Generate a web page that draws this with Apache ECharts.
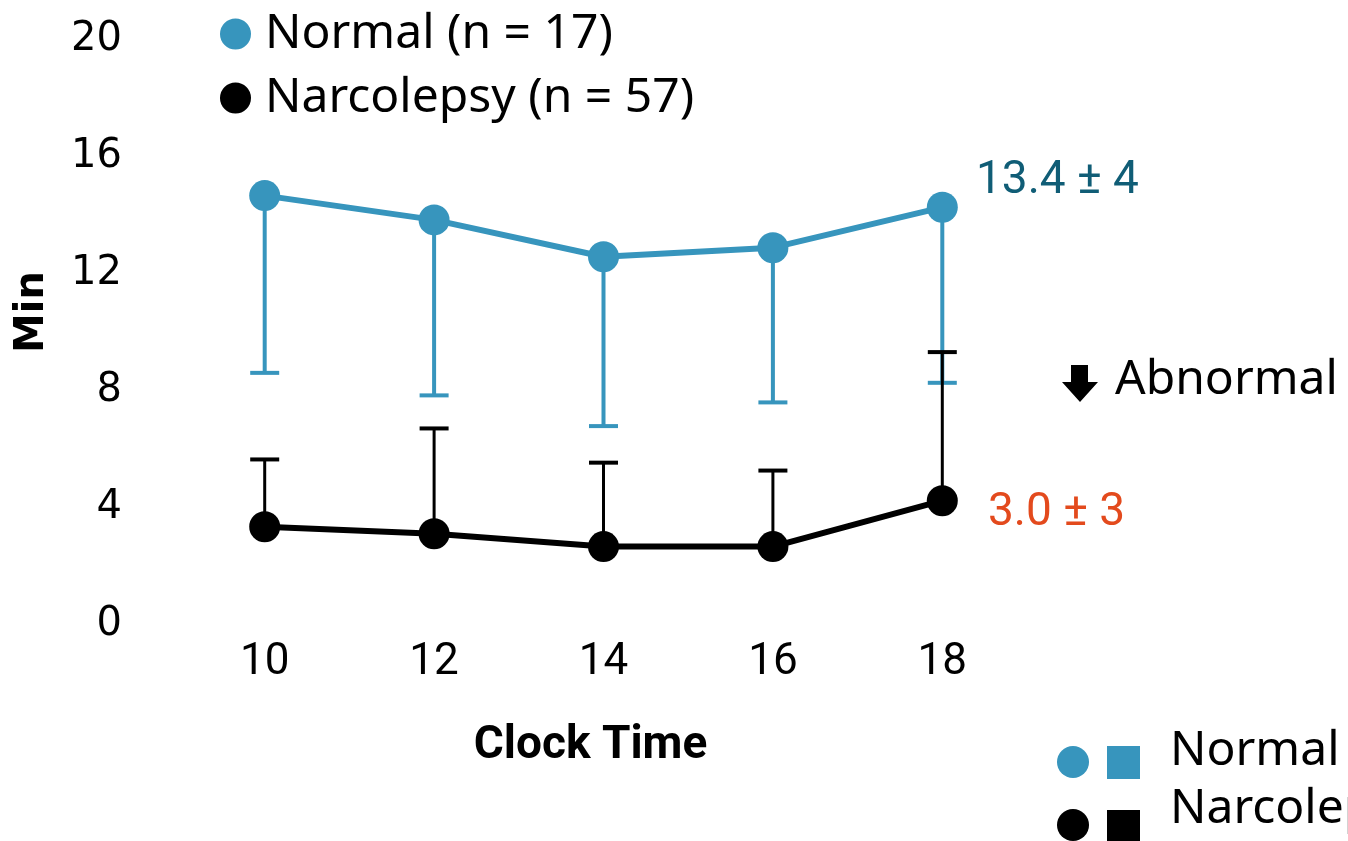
<!DOCTYPE html>
<html>
<head>
<meta charset="utf-8">
<script src="https://cdn.jsdelivr.net/npm/echarts@6/dist/echarts.min.js"></script>
<style>
  html, body { margin: 0; padding: 0; background: #fff; }
  #main { width: 1348px; height: 841px; }
</style>
</head>
<body>
<div id="main"></div>
<script>
// clock time categories
var hours = ['10', '12', '14', '16', '18'];
// mean sleep latency (min)
var normalMean = [14.68, 13.85, 12.59, 12.90, 14.28];
var normalLow = [8.62, 7.85, 6.80, 7.61, 8.28];   // lower end of error bar
var narcoMean = [3.36, 3.12, 2.68, 2.68, 4.25];
var narcoHigh = [5.66, 6.72, 5.55, 5.28, 9.33];   // upper end of error bar
var yTicks = [0, 4, 8, 12, 16, 20];

var BLUE = '#3795bd';
var BLACK = '#000000';

function errData(mean, bound) {
  return mean.map(function (m, i) { return [i, m, bound[i]]; });
}

function errRender(color, width) {
  return function (params, api) {
    var p0 = api.coord([api.value(0), api.value(1)]);
    var p1 = api.coord([api.value(0), api.value(2)]);
    var half = 14.5;
    return {
      type: 'group',
      children: [
        { type: 'line', shape: { x1: p0[0], y1: p0[1], x2: p1[0], y2: p1[1] },
          style: { stroke: color, lineWidth: width } },
        { type: 'line', shape: { x1: p1[0] - half, y1: p1[1], x2: p1[0] + half, y2: p1[1] },
          style: { stroke: color, lineWidth: 4 } }
      ]
    };
  };
}

var myChart = echarts.init(document.getElementById('main'));
myChart.setOption({
  animation: false,
  backgroundColor: '#fff',
  grid: { left: 180, right: 321, top: 40, bottom: 216, containLabel: false, outerBoundsMode: 'none' },
  legend: {
    orient: 'vertical',
    left: 215,
    top: 2,
    icon: 'circle',
    itemWidth: 31,
    itemHeight: 31,
    itemGap: 10,
    data: ['Normal (n = 17)', 'Narcolepsy (n = 57)'],
    textStyle: { fontFamily: 'Noto Sans', fontSize: 48, color: '#000', lineHeight: 54, padding: [0, 0, 0, 9] }
  },
  xAxis: {
    type: 'category',
    data: hours,
    boundaryGap: true,
    axisLine: { show: false },
    axisTick: { show: false },
    axisLabel: { fontFamily: 'Roboto', fontSize: 44, color: '#000', margin: 16 },
    name: 'Clock Time',
    nameLocation: 'middle',
    nameGap: 98,
    nameTextStyle: { fontFamily: 'Roboto', fontWeight: 'bold', fontSize: 46, color: '#000', padding: [0, 26, 0, 0] }
  },
  yAxis: {
    type: 'value',
    min: yTicks[0],
    max: yTicks[yTicks.length - 1],
    interval: 4,
    splitLine: { show: false },
    axisLine: { show: false },
    axisTick: { show: false },
    axisLabel: { fontFamily: 'DejaVu Sans', fontSize: 40, color: '#000', margin: 58 }
  },
  series: [
    {
      type: 'custom',
      renderItem: errRender(BLUE, 4),
      data: errData(normalMean, normalLow),
      z: 1
    },
    {
      type: 'custom',
      renderItem: errRender(BLACK, 3),
      data: errData(narcoMean, narcoHigh),
      z: 2
    },
    {
      name: 'Normal (n = 17)',
      type: 'line',
      data: normalMean,
      symbol: 'circle',
      symbolSize: 31,
      itemStyle: { color: BLUE },
      lineStyle: { color: BLUE, width: 6 },
      z: 3
    },
    {
      name: 'Narcolepsy (n = 57)',
      type: 'line',
      data: narcoMean,
      symbol: 'circle',
      symbolSize: 31,
      itemStyle: { color: BLACK },
      lineStyle: { color: BLACK, width: 6 },
      z: 3
    }
  ],
  graphic: [
    { type: 'text', x: 33, y: 312, rotation: Math.PI / 2,
      style: { text: 'Min', fontFamily: 'DejaVu Sans', fontWeight: 'bold', fontSize: 40, fill: '#000', align: 'center', verticalAlign: 'middle' } },
    { type: 'text', left: 976, top: 158,
      style: { text: '13.4 ± 4', fontFamily: 'Roboto', fontSize: 46, fill: '#105d76' } },
    { type: 'text', left: 988, top: 490,
      style: { text: '3.0 ± 3', fontFamily: 'Roboto', fontSize: 46, fill: '#e34a1d' } },
    { type: 'polygon',
      shape: { points: [[1071, 365], [1088, 365], [1088, 382], [1098, 382], [1080, 402], [1062, 382], [1071, 382]] },
      style: { fill: '#000' } },
    { type: 'text', left: 1115, top: 356,
      style: { text: 'Abnormal', fontFamily: 'Noto Sans', fontSize: 48, fill: '#000' } },
    // cropped legend at bottom right
    { type: 'circle', shape: { cx: 1073, cy: 762, r: 16 }, style: { fill: BLUE } },
    { type: 'rect', shape: { x: 1107, y: 746, width: 33, height: 33 }, style: { fill: BLUE } },
    { type: 'text', left: 1170, top: 727,
      style: { text: 'Normal (n = 17)', fontFamily: 'Noto Sans', fontSize: 48, fill: '#000' } },
    { type: 'circle', shape: { cx: 1073, cy: 825, r: 16 }, style: { fill: '#000' } },
    { type: 'rect', shape: { x: 1107, y: 810, width: 33, height: 33 }, style: { fill: '#000' } },
    { type: 'text', left: 1170, top: 785,
      style: { text: 'Narcolepsy (n = 57)', fontFamily: 'Noto Sans', fontSize: 48, fill: '#000' } }
  ]
});
</script>
</body>
</html>
